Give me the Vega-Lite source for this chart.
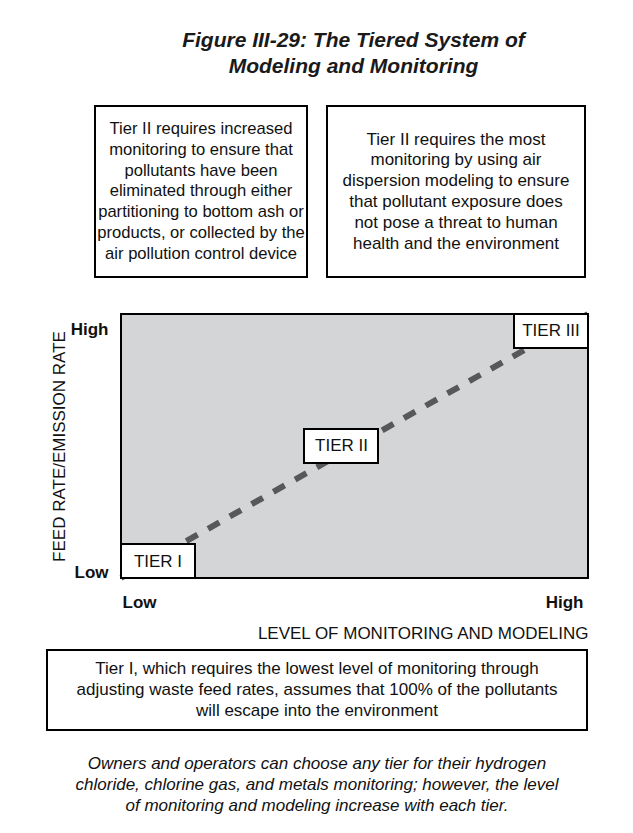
{
  "$schema": "https://vega.github.io/schema/vega-lite/v6.json",
  "background": "white",
  "padding": {"left": 46, "top": 30, "right": 10, "bottom": 0},
  "title": {
    "text": ["Figure III-29: The Tiered System of", "Modeling and Monitoring"],
    "font": "Liberation Sans",
    "fontSize": 21,
    "fontWeight": "bold",
    "fontStyle": "italic",
    "color": "#1a1a1a",
    "lineHeight": 26,
    "anchor": "middle",
    "baseline": "top",
    "dx": 30,
    "offset": 28
  },
  "config": {"font": "Liberation Sans", "view": {"stroke": null}},
  "spacing": 23,
  "vconcat": [
    {
      "spacing": 18,
      "hconcat": [
        {
          "width": 29,
          "height": 171,
          "view": {"stroke": null, "fill": null},
          "data": {"values": [{"note": ""}]},
          "mark": {"type": "text"},
          "encoding": {"text": {"field": "note", "type": "nominal"}}
        },
        {
          "width": 212,
          "height": 171,
          "view": {"fill": "white", "stroke": "black", "strokeWidth": 2},
          "data": {"values": [{"note": "Tier II requires increased\nmonitoring to ensure that\npollutants have been\neliminated through either\npartitioning to bottom ash or\nproducts, or collected by the\nair pollution control device"}]},
          "mark": {"type": "text", "lineBreak": "\n", "fontSize": 16.6, "lineHeight": 20.8, "align": "center", "baseline": "middle", "dy": -62.4, "color": "#111"},
          "encoding": {"text": {"field": "note", "type": "nominal"}}
        },
        {
          "width": 258,
          "height": 171,
          "view": {"fill": "white", "stroke": "black", "strokeWidth": 2},
          "data": {"values": [{"note": "Tier II requires the most\nmonitoring by using air\ndispersion modeling to ensure\nthat pollutant exposure does\nnot pose a threat to human\nhealth and the environment"}]},
          "mark": {"type": "text", "lineBreak": "\n", "fontSize": 17, "lineHeight": 20.8, "align": "center", "baseline": "middle", "dy": -52, "color": "#111"},
          "encoding": {"text": {"field": "note", "type": "nominal"}}
        }
      ]
    },
    {
      "spacing": 7,
      "vconcat": [
        {
          "spacing": 0,
          "hconcat": [
            {
              "width": 1,
              "height": 264,
              "view": {"stroke": null, "fill": null},
              "data": {"values": [{"note": ""}]},
              "mark": {"type": "text"},
              "encoding": {"text": {"field": "note", "type": "nominal"}}
            },
            {
              "width": 467,
              "height": 264,
              "view": {"fill": "#d4d5d7", "stroke": "black", "strokeWidth": 2},
              "data": {"values": [
                {"tier": "TIER I", "level": 0, "rate": 0},
                {"tier": "TIER II", "level": 0.5, "rate": 0.5},
                {"tier": "TIER III", "level": 1, "rate": 1}
              ]},
              "encoding": {
                "x": {
                  "field": "level",
                  "type": "quantitative",
                  "scale": {"domain": [0, 1], "nice": false, "zero": false},
                  "axis": {
                    "values": [0, 1],
                    "labelExpr": "datum.value == 0 ? 'Low' : 'High'",
                    "ticks": false,
                    "tickSize": 0,
                    "domain": false,
                    "grid": false,
                    "labelFlush": false,
                    "labelFontSize": 17,
                    "labelFontWeight": "bold",
                    "labelColor": "#111",
                    "labelAlign": {"condition": {"test": "datum.value == 0", "value": "left"}, "value": "right"},
                    "labelOffset": {"condition": {"test": "datum.value == 0", "value": 1}, "value": -5},
                    "labelBaseline": "alphabetic",
                    "labelPadding": 29,
                    "title": "LEVEL OF MONITORING AND MODELING",
                    "titleFontSize": 17,
                    "titleFontWeight": "normal",
                    "titleColor": "#111",
                    "titleAnchor": "end",
                    "titleAlign": "right",
                    "titleBaseline": "alphabetic",
                    "titleX": 467,
                    "titleY": 60
                  }
                },
                "y": {
                  "field": "rate",
                  "type": "quantitative",
                  "scale": {"domain": [0, 1], "nice": false, "zero": false},
                  "axis": {
                    "values": [0, 1],
                    "labelExpr": "datum.value == 0 ? 'Low' : 'High'",
                    "ticks": false,
                    "tickSize": 0,
                    "domain": false,
                    "grid": false,
                    "labelFlush": false,
                    "labelFontSize": 17,
                    "labelFontWeight": "bold",
                    "labelColor": "#111",
                    "labelAlign": "right",
                    "labelBaseline": "alphabetic",
                    "labelOffset": {"condition": {"test": "datum.value == 1", "value": 20}, "value": -1},
                    "labelPadding": 13,
                    "title": "FEED RATE/EMISSION RATE",
                    "titleFontSize": 17,
                    "titleFontWeight": "normal",
                    "titleColor": "#111",
                    "titleAngle": -90,
                    "titleAlign": "center",
                    "titleBaseline": "alphabetic",
                    "titleX": -57,
                    "titleY": 132
                  }
                }
              },
              "layer": [
                {
                  "mark": {"type": "line", "color": "#58585a", "strokeWidth": 6, "strokeDash": [13, 12], "strokeCap": "butt"},
                  "encoding": {"order": {"field": "level", "type": "quantitative"}}
                },
                {
                  "mark": {"type": "point", "filled": true, "fill": "white", "stroke": "black", "strokeWidth": 2, "opacity": 1, "size": 5476},
                  "encoding": {
                    "shape": {
                      "field": "tier",
                      "type": "nominal",
                      "scale": {
                        "domain": ["TIER I", "TIER II", "TIER III"],
                        "range": [
                          "M0,0L2,0L2,-0.919L0,-0.919Z",
                          "M-1.365,-0.459L0.635,-0.459L0.635,0.459L-1.365,0.459Z",
                          "M0,0L-2,0L-2,0.919L0,0.919Z"
                        ]
                      },
                      "legend": null
                    }
                  }
                },
                {
                  "mark": {
                    "type": "text",
                    "fontSize": 17,
                    "color": "#111",
                    "align": "center",
                    "baseline": "middle",
                    "dx": {"expr": "datum.tier == 'TIER I' ? 37 : datum.tier == 'TIER II' ? -13 : -37"},
                    "dy": {"expr": "datum.tier == 'TIER I' ? -16.5 : datum.tier == 'TIER II' ? 0 : 17"}
                  },
                  "encoding": {"text": {"field": "tier", "type": "nominal"}}
                }
              ]
            }
          ]
        },
        {
          "width": 540,
          "height": 80,
          "view": {"fill": "white", "stroke": "black", "strokeWidth": 2},
          "data": {"values": [{"note": "Tier I, which requires the lowest level of monitoring through\nadjusting waste feed rates, assumes that 100% of the pollutants\nwill escape into the environment"}]},
          "mark": {"type": "text", "lineBreak": "\n", "fontSize": 17, "lineHeight": 21, "align": "center", "baseline": "middle", "dy": -21, "color": "#111"},
          "encoding": {"text": {"field": "note", "type": "nominal"}}
        },
        {
          "width": 540,
          "height": 94,
          "view": {"stroke": null, "fill": null},
          "data": {"values": [{"note": "Owners and operators can choose any tier for their hydrogen\nchloride, chlorine gas, and metals monitoring; however, the level\nof monitoring and modeling increase with each tier."}]},
          "mark": {"type": "text", "lineBreak": "\n", "fontSize": 17, "lineHeight": 21, "fontStyle": "italic", "align": "center", "baseline": "middle", "dy": -21, "color": "#111"},
          "encoding": {"text": {"field": "note", "type": "nominal"}}
        }
      ]
    }
  ]
}
